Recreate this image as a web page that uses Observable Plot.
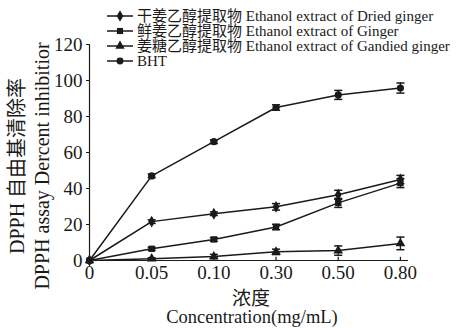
<!DOCTYPE html>
<html><head><meta charset="utf-8">
<script src="https://cdn.jsdelivr.net/npm/d3@7"></script>
<script src="https://cdn.jsdelivr.net/npm/@observablehq/plot@0.6"></script>
<style>
body{margin:0;background:#fff}
svg{font-family:"Liberation Serif","Noto Sans CJK SC",serif;background:#fff}
</style>
</head><body><div id="chart"></div>
<script>
const concentrations = ["0", "0.05", "0.10", "0.30", "0.50", "0.80"];
const seriesNames = [
  "干姜乙醇提取物 Ethanol extract of Dried ginger",
  "鲜姜乙醇提取物 Ethanol extract of Ginger",
  "姜糖乙醇提取物 Ethanol extract of Gandied ginger",
  "BHT"
];
const driedGinger   = [0, 21.6, 26.0, 29.8, 36.5, 45.0];
const ginger        = [0, 6.5, 11.7, 18.6, 32.0, 43.0];
const gandiedGinger = [0, 1.0, 2.2, 4.8, 5.5, 9.5];
const bht           = [0, 47.0, 66.0, 85.0, 92.0, 95.8];
const driedErr   = [0, 1.0, 1.0, 1.8, 2.5, 2.3];
const gingerErr  = [0, 0.8, 1.0, 1.5, 2.5, 2.5];
const gandiedErr = [0, 0.5, 1.2, 1.5, 2.6, 3.5];
const bhtErr     = [0, 1.0, 1.0, 1.5, 2.5, 2.8];
const yTicks = [0, 20, 40, 60, 80, 100, 120];
const symbolNames = ["diamond", "square", "triangle", "circle"];

const values = [driedGinger, ginger, gandiedGinger, bht];
const errors = [driedErr, gingerErr, gandiedErr, bhtErr];
const rows = [];
seriesNames.forEach((s, k) => values[k].forEach((v, i) => rows.push({series: s, i, v, e: errors[k][i]})));
const errRows = rows.filter(d => d.e > 0);
const ink = "#1a1a1a";

const plot = Plot.plot({
  width: 461, height: 328,
  marginLeft: 89, marginRight: 53, marginTop: 44, marginBottom: 68,
  style: {background: "#fff", fontFamily: '"Liberation Serif","Noto Sans CJK SC",serif'},
  x: {domain: [0, 5.13], axis: null},
  y: {domain: [0, 120], axis: null},
  symbol: {domain: seriesNames, range: symbolNames},
  marks: [
    Plot.ruleY([0], {stroke: ink, strokeWidth: 1.2}),
    Plot.ruleX([0], {y1: 0, y2: 120, stroke: ink, strokeWidth: 1.2}),
    Plot.ruleX(d3.range(1, concentrations.length), {y1: 0, y2: 1.8, stroke: ink, strokeWidth: 1.2}),
    Plot.axisX(d3.range(concentrations.length), {tickSize: 0, tickPadding: 5, fontSize: 19, label: null, tickFormat: i => concentrations[i], color: ink}),
    Plot.axisY(yTicks, {tickSize: 3, tickPadding: 4, fontSize: 19, label: null, color: ink}),
    Plot.line(rows, {x: "i", y: "v", z: "series", stroke: ink, strokeWidth: 1.5}),
    Plot.ruleX(errRows, {x: "i", y1: d => d.v - d.e, y2: d => d.v + d.e, stroke: ink, strokeWidth: 1.3}),
    Plot.link(errRows, {x1: d => d.i - 0.065, x2: d => d.i + 0.065, y1: d => d.v + d.e, y2: d => d.v + d.e, stroke: ink, strokeWidth: 1.5}),
    Plot.link(errRows, {x1: d => d.i - 0.065, x2: d => d.i + 0.065, y1: d => d.v - d.e, y2: d => d.v - d.e, stroke: ink, strokeWidth: 1.5}),
    Plot.dot(rows, {x: "i", y: "v", symbol: "series", fill: ink, r: 3.6})
  ]
});

const svg = d3.select(plot);
// legend
const symMap = {diamond: d3.symbolDiamond, square: d3.symbolSquare, triangle: d3.symbolTriangle, circle: d3.symbolCircle};
const lg = svg.append("g").attr("transform", "translate(107,16)");
seriesNames.forEach((name, k) => {
  const g = lg.append("g").attr("transform", `translate(0,${k * 15})`);
  g.append("line").attr("x1", 0).attr("x2", 26).attr("y1", 0).attr("y2", 0).attr("stroke", ink).attr("stroke-width", 1.5);
  g.append("path").attr("transform", "translate(13,0)").attr("d", d3.symbol(symMap[symbolNames[k]], 38)()).attr("fill", ink);
  g.append("text").attr("x", 30).attr("y", 0).attr("dy", "0.34em").attr("text-anchor", "start").attr("font-size", 15).attr("fill", ink).text(name);
});
// y titles
const yt = [["DPPH 自由基清除率", 17], ["DPPH assay Dercent inhibitior", 42]];
yt.forEach(([t, x]) => svg.append("text").attr("transform", `translate(${x},166) rotate(-90)`)
  .attr("text-anchor", "middle").attr("dy", "0.35em").attr("font-size", 20).attr("fill", ink).text(t));
// x titles
svg.append("text").attr("x", 251).attr("y", 298).attr("text-anchor", "middle").attr("dy", "0.35em").attr("font-size", 19).attr("fill", ink).text("浓度");
svg.append("text").attr("x", 252).attr("y", 317).attr("text-anchor", "middle").attr("dy", "0.35em").attr("font-size", 18.5).attr("fill", ink).text("Concentration(mg/mL)");

document.getElementById("chart").append(plot);
</script>
</body></html>
